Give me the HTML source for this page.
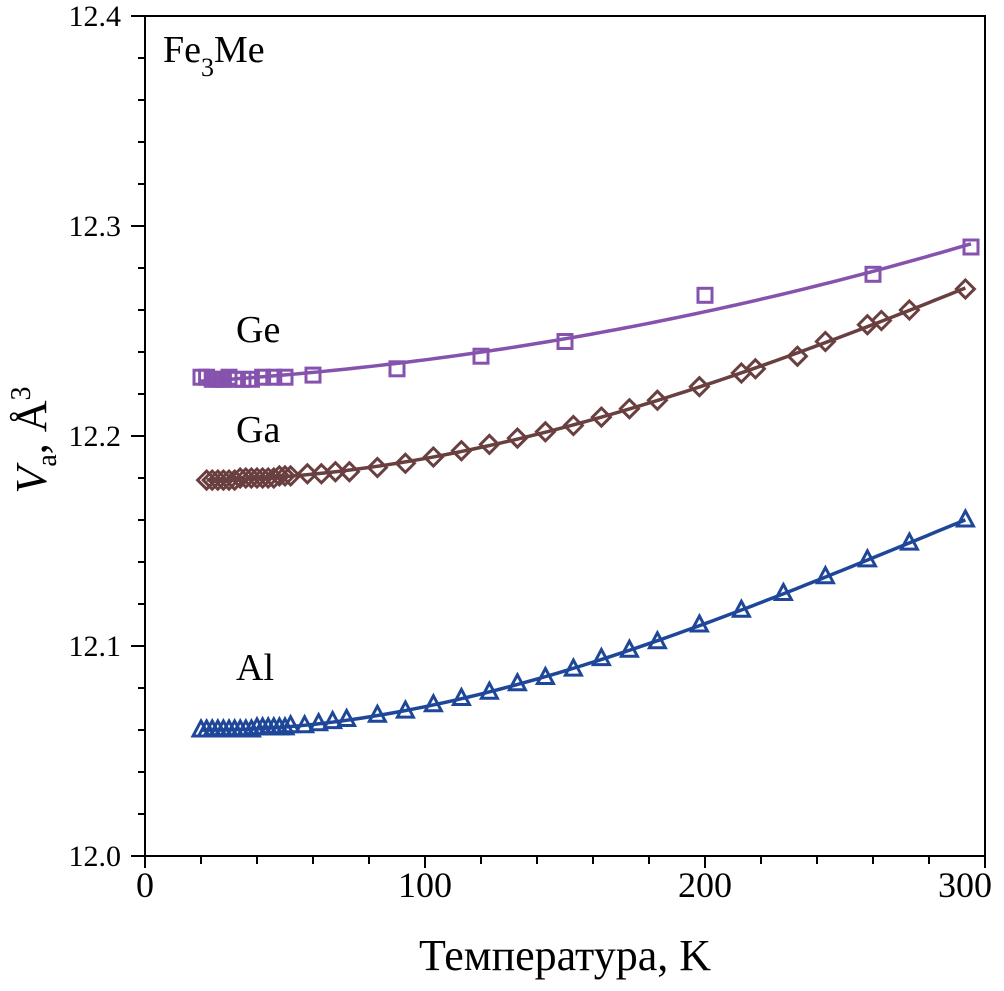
<!DOCTYPE html>
<html><head><meta charset="utf-8"><style>
html,body{margin:0;padding:0;background:#fff;}
svg{display:block;font-family:"Liberation Serif",serif;}
</style></head><body>
<svg id="chart" width="1004" height="991" viewBox="0 0 1004 991" xmlns="http://www.w3.org/2000/svg">
<g id="axes"></g>
<g id="series"></g>
<text x="163" y="62" font-size="38">Fe<tspan font-size="26" dy="14">3</tspan><tspan dy="-14">Me</tspan></text>
<text x="236" y="342" font-size="38">Ge</text>
<text x="236" y="442" font-size="38">Ga</text>
<text x="236" y="680" font-size="38">Al</text>
<text x="565" y="970" font-size="44" text-anchor="middle">Температура, K</text>
<text transform="translate(46,440) rotate(-90)" font-size="44" text-anchor="middle"><tspan font-style="italic">V</tspan><tspan font-size="28" dy="10">a</tspan><tspan dy="-10">, Å</tspan><tspan font-size="28" dy="-16">3</tspan></text>
</svg>
<script>
const xTicks=[0,100,200,300];
const yTicks=[12.0,12.1,12.2,12.3,12.4];
const yTickLabels=["12.0","12.1","12.2","12.3","12.4"];
const geT=[20,22,24,26,28,30,32,35,38,42,46,50,60,90,120,150,200,260,295];
const geV=[12.228,12.228,12.227,12.227,12.227,12.228,12.227,12.227,12.227,12.228,12.228,12.228,12.229,12.232,12.238,12.245,12.267,12.277,12.290];
const gaT=[22,24,26,28,30,32,34,36,38,40,42,44,46,48,50,52,58,63,68,73,83,93,103,113,123,133,143,153,163,173,183,198,213,218,233,243,258,263,273,293];
const gaV=[12.179,12.179,12.179,12.179,12.179,12.179,12.180,12.180,12.180,12.180,12.180,12.180,12.180,12.181,12.181,12.181,12.182,12.182,12.183,12.183,12.185,12.187,12.190,12.193,12.196,12.199,12.202,12.205,12.209,12.213,12.217,12.2235,12.230,12.232,12.238,12.245,12.253,12.255,12.260,12.270];
const alT=[20,22,24,26,28,30,32,34,36,38,40,42,44,46,48,50,52,57,62,67,72,83,93,103,113,123,133,143,153,163,173,183,198,213,228,243,258,273,293];
const alV=[12.060,12.060,12.060,12.060,12.060,12.060,12.060,12.060,12.060,12.060,12.061,12.061,12.061,12.061,12.061,12.061,12.062,12.062,12.063,12.064,12.065,12.067,12.069,12.072,12.075,12.078,12.082,12.085,12.089,12.094,12.098,12.102,12.110,12.117,12.125,12.133,12.141,12.149,12.160];
const X0=145,X1=985,Y0=856,Y1=16;
const xs=t=>X0+(t-0)/300*(X1-X0);
const ys=v=>Y0-(v-12.0)/0.4*(Y0-Y1);
const NS="http://www.w3.org/2000/svg";
function mk(tag,attrs,parent){const e=document.createElementNS(NS,tag);for(const k in attrs)e.setAttribute(k,attrs[k]);parent.appendChild(e);return e;}
const ax=document.getElementById('axes');
let e=mk('rect',{x:X0,y:Y1,width:X1-X0,height:Y0-Y1,fill:'none',stroke:'#000','stroke-width':2},ax);


for(let t=0;t<=300;t+=20){const major=t%100===0;
 e=mk('line',{x1:xs(t),x2:xs(t),y1:Y0,y2:Y0+(major?12:8),stroke:'#000','stroke-width':2},ax);
 
 }
xTicks.forEach((t,i)=>{const last=i===xTicks.length-1;
 e=mk('text',{x:last?992:xs(t),y:897,'font-size':36,'text-anchor':last?'end':'middle'},ax);e.textContent=String(t);
 
 });
for(let i=0;i<=20;i++){const v=12+i*0.02;const major=i%5===0;
 e=mk('line',{x1:X0-(major?14:7),x2:X0,y1:ys(v),y2:ys(v),stroke:'#000','stroke-width':2},ax);
 
 }
yTicks.forEach((v,i)=>{e=mk('text',{x:121,y:ys(v)+10,'font-size':30,'text-anchor':'end'},ax);e.textContent=yTickLabels[i];
 
 });
function polyfit(T,V,deg){const n=deg+1;const A=[];for(let i=0;i<n;i++){A.push(new Array(n+1).fill(0));}
 T.forEach((t,k)=>{const s=t/100;for(let i=0;i<n;i++){for(let j=0;j<n;j++)A[i][j]+=Math.pow(s,i+j);A[i][n]+=Math.pow(s,i)*(V[k]-12);}});
 for(let i=0;i<n;i++){let p=i;for(let r=i+1;r<n;r++)if(Math.abs(A[r][i])>Math.abs(A[p][i]))p=r;[A[i],A[p]]=[A[p],A[i]];
  for(let r=0;r<n;r++){if(r===i)continue;const f=A[r][i]/A[i][i];for(let c=i;c<=n;c++)A[r][c]-=f*A[i][c];}}
 return A.map((row,i)=>row[n]/row[i]);}
function fitPath(T,V,deg){const c=polyfit(T,V,deg);const t0=Math.min(...T),t1=Math.max(...T);let d='';
 for(let k=0;k<=100;k++){const t=t0+(t1-t0)*k/100,s=t/100;let v=12;c.forEach((a,i)=>v+=a*Math.pow(s,i));d+=(k?'L':'M')+xs(t).toFixed(2)+','+ys(v).toFixed(2);}
 return d;}
const sg=document.getElementById('series');
function series(T,V,color,shape,name,deg){
 const g=mk('g',{},sg);
 
 
 let l=mk('path',{d:fitPath(T,V,deg),fill:'none',stroke:color,'stroke-width':3.5},g);
 
 
 T.forEach((t,i)=>{const x=xs(t),y=ys(V[i]);let m;
  if(shape==='square')m=mk('rect',{x:x-7,y:y-7,width:14,height:14,fill:'none',stroke:color,'stroke-width':3},g);
  else if(shape==='diamond')m=mk('polygon',{points:`${x},${y-9} ${x+9},${y} ${x},${y+9} ${x-9},${y}`,fill:'none',stroke:color,'stroke-width':3},g);
  else m=mk('polygon',{points:`${x},${y-9} ${x+8},${y+6} ${x-8},${y+6}`,fill:'none',stroke:color,'stroke-width':3},g);
  
  });
}
series(geT,geV,'#8553ad','square','ge',2);
series(gaT,gaV,'#6a3f3f','diamond','ga',3);
series(alT,alV,'#1f4799','triangle','al',3);
</script>
</body></html>
